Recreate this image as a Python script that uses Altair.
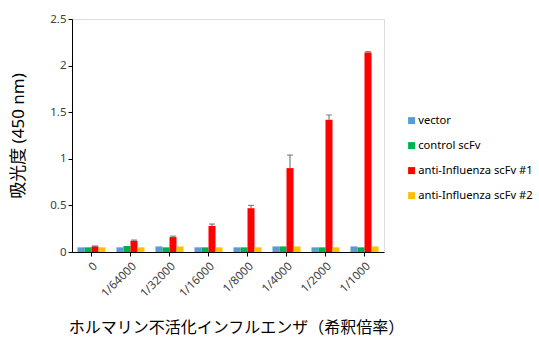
import altair as alt
import pandas as pd

dilutions = ["0", "1/64000", "1/32000", "1/16000", "1/8000", "1/4000", "1/2000", "1/1000"]
series = ["vector", "control scFv", "anti-Influenza scFv #1", "anti-Influenza scFv #2"]
colors = ["#5B9BD5", "#00B050", "#FF0000", "#FFC000"]

vector_vals = [0.05, 0.05, 0.06, 0.05, 0.05, 0.06, 0.05, 0.06]
control_vals = [0.05, 0.065, 0.05, 0.05, 0.05, 0.06, 0.05, 0.05]
anti1_vals = [0.06, 0.12, 0.16, 0.28, 0.47, 0.90, 1.42, 2.14]
anti2_vals = [0.05, 0.05, 0.06, 0.05, 0.05, 0.06, 0.05, 0.06]

vector_err = [0.0, 0.0, 0.0, 0.0, 0.0, 0.0, 0.0, 0.0]
control_err = [0.0, 0.0, 0.0, 0.0, 0.0, 0.0, 0.0, 0.0]
anti1_err = [0.005, 0.008, 0.01, 0.02, 0.03, 0.14, 0.05, 0.01]
anti2_err = [0.0, 0.0, 0.0, 0.0, 0.0, 0.0, 0.0, 0.0]

rows = []
for s, vals, errs in zip(series,
                         [vector_vals, control_vals, anti1_vals, anti2_vals],
                         [vector_err, control_err, anti1_err, anti2_err]):
    for d, v, e in zip(dilutions, vals, errs):
        rows.append({"dilution": d, "series": s, "value": v, "err": e, "hi": v + e})
df = pd.DataFrame(rows)

x_enc = alt.X("dilution:N", sort=dilutions,
              scale=alt.Scale(paddingInner=0.28, paddingOuter=0.14),
              axis=alt.Axis(title="ホルマリン不活化インフルエンザ（希釈倍率）",
                            labelAngle=-45, labelFontSize=11.5, labelFont="Noto Sans",
                            labelColor="#404040",
                            titleFont="Noto Sans CJK JP", titleFontSize=16,
                            titleFontWeight="normal", titleColor="#000000",
                            titlePadding=20, titleX=164,
                            domainColor="#000000", tickColor="#000000",
                            tickSize=4, labelPadding=4))
off_enc = alt.XOffset("series:N", sort=series, scale=alt.Scale(paddingInner=0, paddingOuter=0))

y_scale = alt.Scale(domain=[0, 2.5], padding=0, nice=False)

bars = alt.Chart(df).mark_bar().encode(
    x=x_enc,
    xOffset=off_enc,
    y=alt.Y("value:Q", scale=y_scale,
            axis=alt.Axis(title="吸光度 (450 nm)", values=[0, 0.5, 1, 1.5, 2, 2.5],
                          format=".1~f", grid=False, labelFontSize=11.5,
                          labelFont="Noto Sans", labelColor="#404040",
                          titleFont="Noto Sans, Noto Sans CJK JP", titleFontSize=17,
                          titleFontWeight="normal", titleColor="#000000",
                          titlePadding=22,
                          domainColor="#000000", tickColor="#000000", tickSize=4)),
    color=alt.Color("series:N", sort=series,
                    scale=alt.Scale(domain=series, range=colors),
                    legend=alt.Legend(title=None, orient="none", legendX=334, legendY=96,
                                      symbolType="square", symbolSize=49,
                                      symbolStrokeWidth=0, labelFontSize=11.2,
                                      labelFont="Noto Sans", labelColor="#000000",
                                      rowPadding=13, labelOffset=1)),
)

err_df = df[df["err"] > 0]
rules = alt.Chart(err_df).mark_rule(color="#7F7F7F", strokeWidth=1.2).encode(
    x=alt.X("dilution:N", sort=dilutions),
    xOffset=alt.XOffset("series:N", sort=series),
    y=alt.Y("value:Q", scale=y_scale),
    y2="hi:Q",
)
caps = alt.Chart(err_df).mark_tick(color="#595959", thickness=1.2, size=6).encode(
    x=alt.X("dilution:N", sort=dilutions),
    xOffset=alt.XOffset("series:N", sort=series),
    y=alt.Y("hi:Q", scale=y_scale),
)

chart = alt.layer(bars, rules, caps).properties(
    width=312, height=233,
    autosize=alt.AutoSizeParams(type="none"),
    padding={"left": 72, "top": 19, "right": 155, "bottom": 88},
).configure_view(stroke=None).configure_scale(continuousPadding=0).configure(background="white")

chart.save("out.html", embed_options={"renderer": "svg", "actions": False})
